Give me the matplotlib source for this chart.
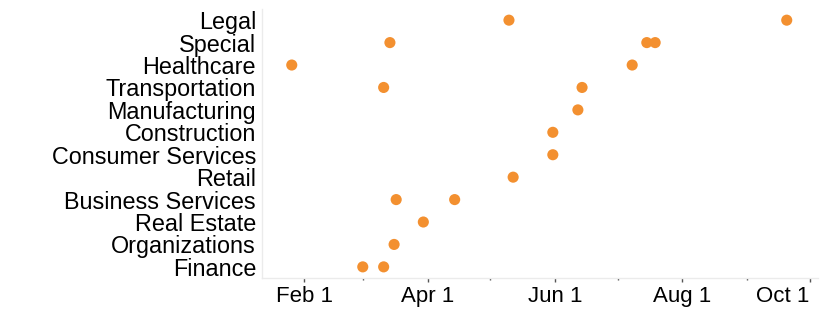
import matplotlib
matplotlib.use("Agg")
import matplotlib.pyplot as plt
import matplotlib.dates as mdates
import matplotlib.transforms as mtransforms
import pandas as pd

plt.rcParams["font.family"] = ["Liberation Sans", "DejaVu Sans"]

# categories, bottom to top
categories = ["Finance", "Organizations", "Real Estate", "Business Services", "Retail",
              "Consumer Services", "Construction", "Manufacturing", "Transportation",
              "Healthcare", "Special", "Legal"]

# one row per point: category and date
point_cats = ["Legal", "Legal",
              "Special", "Special", "Special",
              "Healthcare", "Healthcare",
              "Transportation", "Transportation",
              "Manufacturing",
              "Construction",
              "Consumer Services",
              "Retail",
              "Business Services", "Business Services",
              "Real Estate",
              "Organizations",
              "Finance", "Finance"]
point_dates = ["2021-05-10", "2021-09-20",
               "2021-03-14", "2021-07-15", "2021-07-19",
               "2021-01-26", "2021-07-08",
               "2021-03-11", "2021-06-14",
               "2021-06-12",
               "2021-05-31",
               "2021-05-31",
               "2021-05-12",
               "2021-03-17", "2021-04-14",
               "2021-03-30",
               "2021-03-16",
               "2021-03-01", "2021-03-11"]

major_ticks = ["2021-02-01", "2021-04-01", "2021-06-01", "2021-08-01", "2021-10-01"]
major_labels = ["Feb 1", "Apr 1", "Jun 1", "Aug 1", "Oct 1"]
minor_ticks = ["2021-03-01", "2021-05-01", "2021-07-01", "2021-09-01"]

fig = plt.figure(figsize=(8.28, 3.2), dpi=100)
ax = fig.add_axes([0.316, 0.131, 0.672, 0.841])

ypos = [categories.index(c) for c in point_cats]
xs = mdates.date2num(pd.to_datetime(point_dates))
ax.scatter(xs, ypos, s=64, color="#F39030", edgecolors="none", zorder=3)

ax.set_yticks(range(len(categories)))
ax.set_yticklabels(categories, fontsize=16.8)
ax.set_ylim(-0.5, len(categories) - 0.5)

ax.set_xticks(mdates.date2num(pd.to_datetime(major_ticks)))
ax.set_xticklabels(major_labels, fontsize=16)
ax.set_xticks(mdates.date2num(pd.to_datetime(minor_ticks)), minor=True)
ax.set_xlim(mdates.date2num(pd.Timestamp("2021-01-11 14:00")),
            mdates.date2num(pd.Timestamp("2021-10-05")))

# last label is pulled in so it stays inside the figure
last = ax.get_xticklabels()[-1]
last.set_horizontalalignment("right")
last.set_transform(last.get_transform() + mtransforms.ScaledTranslation(3 / 100, 0, fig.dpi_scale_trans))

for side in ["top", "right"]:
    ax.spines[side].set_visible(False)
for side in ["left", "bottom"]:
    ax.spines[side].set_color("#ebebeb")
    ax.spines[side].set_linewidth(1)

ax.tick_params(axis="y", length=0, pad=4)
ax.tick_params(axis="x", which="major", length=3, width=1, color="#555555", pad=3)
ax.tick_params(axis="x", which="minor", length=1.5, width=1, color="#555555")

fig.savefig("out.png", dpi=100)
